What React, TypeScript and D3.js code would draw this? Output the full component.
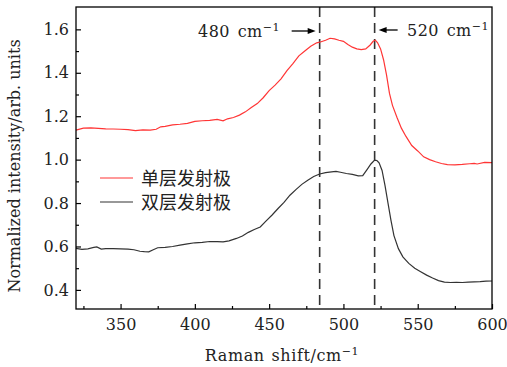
import React, { useEffect, useRef } from "react";
import * as d3 from "d3";

// single-layer emitter (red)
const shiftSingle = [
  320, 325, 330, 335, 340, 345, 350, 355, 360, 365, 370, 374, 377, 380, 385, 390, 395, 400, 405, 410,
  415, 419, 422, 426, 430, 434, 438, 442, 446, 450, 454, 458, 462, 466, 470, 474, 478, 482, 485, 488,
  491, 494, 497, 500, 503, 506, 509, 512, 515, 518, 520, 521.5, 523, 525, 527, 529, 531, 533, 536, 539,
  542, 546, 550, 554, 558, 562, 566, 570, 575, 580, 585, 588, 590, 595, 600,
];
const intensitySingle = [
  1.136, 1.145, 1.146, 1.144, 1.142, 1.141, 1.14, 1.138, 1.134, 1.137, 1.136, 1.14, 1.151, 1.153, 1.16,
  1.163, 1.167, 1.176, 1.179, 1.181, 1.185, 1.179, 1.188, 1.194, 1.205, 1.22, 1.24, 1.258, 1.285, 1.318,
  1.343, 1.372, 1.41, 1.442, 1.478, 1.5, 1.522, 1.538, 1.543, 1.55, 1.559, 1.556, 1.55, 1.545, 1.53,
  1.518, 1.51, 1.507, 1.51, 1.528, 1.545, 1.55, 1.538, 1.51, 1.46, 1.39, 1.305, 1.25, 1.195, 1.145,
  1.108, 1.065, 1.04, 1.013, 1.0, 0.99, 0.982, 0.977, 0.976, 0.978, 0.981, 0.983, 0.98, 0.987, 0.986,
];

// double-layer emitter (black)
const shiftDouble = [
  320, 324, 328, 332, 334, 337, 340, 345, 350, 355, 359, 363, 366, 369, 372, 375, 380, 385, 390, 395,
  400, 405, 410, 415, 419, 423, 428, 432, 436, 440, 444, 448, 452, 456, 460, 464, 468, 472, 476, 480,
  484, 488, 492, 495, 498, 502, 506, 510, 513, 516, 518.5, 521, 522.5, 524, 526, 528, 530, 532, 534, 537,
  540, 544, 548, 552, 556, 560, 564, 568, 572, 576, 580, 584, 588, 592, 596, 600,
];
const intensityDouble = [
  0.591, 0.587, 0.589, 0.596, 0.598, 0.588, 0.59, 0.59, 0.589, 0.588, 0.585, 0.578, 0.576, 0.575, 0.585,
  0.594, 0.596, 0.6, 0.606, 0.612, 0.617, 0.619, 0.623, 0.622, 0.621, 0.626, 0.637, 0.648, 0.665, 0.678,
  0.69, 0.718, 0.745, 0.775, 0.803, 0.836, 0.862, 0.886, 0.905, 0.922, 0.934, 0.94, 0.944, 0.946, 0.942,
  0.936, 0.932, 0.925, 0.926, 0.955, 0.98, 0.998, 0.996, 0.985, 0.95, 0.88, 0.8, 0.72, 0.65, 0.59,
  0.552, 0.522, 0.5, 0.484, 0.468, 0.455, 0.443, 0.436, 0.434, 0.435, 0.434, 0.436, 0.437, 0.438, 0.44,
  0.441,
];

const legendLabels = ["单层发射极", "双层发射极"];
const markerShifts = [484, 521];
const markerLabels = ["480", "520"];
const xTicks = [350, 400, 450, 500, 550, 600];
const yTicks = [0.4, 0.6, 0.8, 1.0, 1.2, 1.4, 1.6];

const App = () => {
  const svgRef = useRef<SVGSVGElement>(null);

  useEffect(() => {
    const svg = d3.select(svgRef.current);
    svg.selectAll("*").remove();

    const margin = { top: 7, right: 15, bottom: 58, left: 76 };
    const width = 507;
    const height = 367;
    const font = "'DejaVu Serif', serif";

    const x = d3.scaleLinear().domain([320, 600]).range([margin.left, width - margin.right]);
    const y = d3.scaleLinear().domain([0.312, 1.703]).range([height - margin.bottom, margin.top]);

    const plot = svg.append("g");

    // dashed markers
    plot
      .selectAll(".marker")
      .data(markerShifts)
      .join("line")
      .attr("x1", (d) => x(d))
      .attr("x2", (d) => x(d))
      .attr("y1", y.range()[1])
      .attr("y2", y.range()[0])
      .attr("stroke", "#333")
      .attr("stroke-width", 1.6)
      .attr("stroke-dasharray", "10,6");

    const line = d3
      .line<[number, number]>()
      .x((d) => x(d[0]))
      .y((d) => y(d[1]));

    const series = [
      { xs: shiftSingle, ys: intensitySingle, color: "#ff3535" },
      { xs: shiftDouble, ys: intensityDouble, color: "#333333" },
    ];
    series.forEach((s) => {
      plot
        .append("path")
        .datum(s.xs.map((v, i) => [v, s.ys[i]] as [number, number]))
        .attr("fill", "none")
        .attr("stroke", s.color)
        .attr("stroke-width", 1.2)
        .attr("d", line);
    });

    // frame
    svg
      .append("rect")
      .attr("x", x.range()[0])
      .attr("y", y.range()[1])
      .attr("width", x.range()[1] - x.range()[0])
      .attr("height", y.range()[0] - y.range()[1])
      .attr("fill", "none")
      .attr("stroke", "#000")
      .attr("stroke-width", 1.3);

    // axes (ticks inside)
    const xAxis = svg
      .append("g")
      .attr("transform", `translate(0,${y.range()[0]})`)
      .call(d3.axisBottom(x).tickValues(xTicks).tickSize(-5).tickPadding(10).tickFormat(d3.format("d")));
    const xMinor = svg
      .append("g")
      .attr("transform", `translate(0,${y.range()[0]})`)
      .call(d3.axisBottom(x).tickValues([325, 375, 425, 475, 525, 575]).tickSize(-3).tickFormat(() => ""));

    const yAxis = svg
      .append("g")
      .attr("transform", `translate(${x.range()[0]},0)`)
      .call(d3.axisLeft(y).tickValues(yTicks).tickSize(-5).tickPadding(7).tickFormat(d3.format(".1f")));
    const yMinor = svg
      .append("g")
      .attr("transform", `translate(${x.range()[0]},0)`)
      .call(d3.axisLeft(y).tickValues([0.5, 0.7, 0.9, 1.1, 1.3, 1.5]).tickSize(-3).tickFormat(() => ""));

    [xAxis, xMinor, yAxis, yMinor].forEach((g) => {
      g.select(".domain").remove();
      g.selectAll("line").attr("stroke", "#000").attr("stroke-width", 1.2);
      g.selectAll("text").attr("font-family", font).attr("font-size", 16).attr("fill", "#222");
    });

    // axis titles
    const xTitle = svg
      .append("text")
      .attr("x", 282)
      .attr("y", 361)
      .attr("text-anchor", "middle")
      .attr("font-family", font)
      .attr("font-size", 16)
      .attr("word-spacing", 1)
      .attr("letter-spacing", 0.6)
      .attr("fill", "#222")
      .text("Raman shift/cm");
    xTitle.append("tspan").attr("font-size", 11).attr("dy", -6).text("−1");

    svg
      .append("text")
      .attr("transform", `translate(20,${166}) rotate(-90)`)
      .attr("text-anchor", "middle")
      .attr("font-family", font)
      .attr("font-size", 16)
      .attr("fill", "#222")
      .text("Normalized intensity/arb. units");

    // marker annotations
    const t480 = svg
      .append("text")
      .attr("x", 198)
      .attr("y", 37)
      .attr("font-family", font)
      .attr("font-size", 16)
      .attr("word-spacing", 2)
      .attr("letter-spacing", 0.5)
      .attr("fill", "#222")
      .text(`${markerLabels[0]} cm`);
    t480.append("tspan").attr("font-size", 11).attr("dy", -6).text("−1");

    const t520 = svg
      .append("text")
      .attr("x", 407)
      .attr("y", 36)
      .attr("font-family", font)
      .attr("font-size", 16)
      .attr("word-spacing", 2)
      .attr("letter-spacing", 0.5)
      .attr("fill", "#222")
      .text(`${markerLabels[1]} cm`);
    t520.append("tspan").attr("font-size", 11).attr("dy", -6).text("−1");

    const arrows = [
      { from: x(markerShifts[0]) - 28, to: x(markerShifts[0]) - 4, yy: 31 },
      { from: x(markerShifts[1]) + 23, to: x(markerShifts[1]) + 4, yy: 30 },
    ];
    arrows.forEach((a) => {
      const dir = Math.sign(a.to - a.from);
      svg
        .append("line")
        .attr("x1", a.from)
        .attr("x2", a.to - dir * 6)
        .attr("y1", a.yy)
        .attr("y2", a.yy)
        .attr("stroke", "#000")
        .attr("stroke-width", 1.3);
      svg
        .append("path")
        .attr("d", `M${a.to},${a.yy} L${a.to - dir * 8},${a.yy - 3} L${a.to - dir * 8},${a.yy + 3} Z`)
        .attr("fill", "#000");
    });

    // legend
    const legendY = [178, 202];
    series.forEach((s, i) => {
      svg
        .append("line")
        .attr("x1", 100)
        .attr("x2", 133)
        .attr("y1", legendY[i])
        .attr("y2", legendY[i])
        .attr("stroke", s.color)
        .attr("stroke-width", 1.2);
      svg
        .append("text")
        .attr("x", 141)
        .attr("y", legendY[i] + 7)
        .attr("font-family", "'Noto Sans CJK SC', sans-serif")
        .attr("font-size", 18)
        .attr("fill", "#222")
        .text(legendLabels[i]);
    });
  }, []);

  return (
    <svg
      ref={svgRef}
      width={507}
      height={367}
      style={{ position: "absolute", left: 0, top: 0, background: "#fff" }}
    ></svg>
  );
};

export default App;
